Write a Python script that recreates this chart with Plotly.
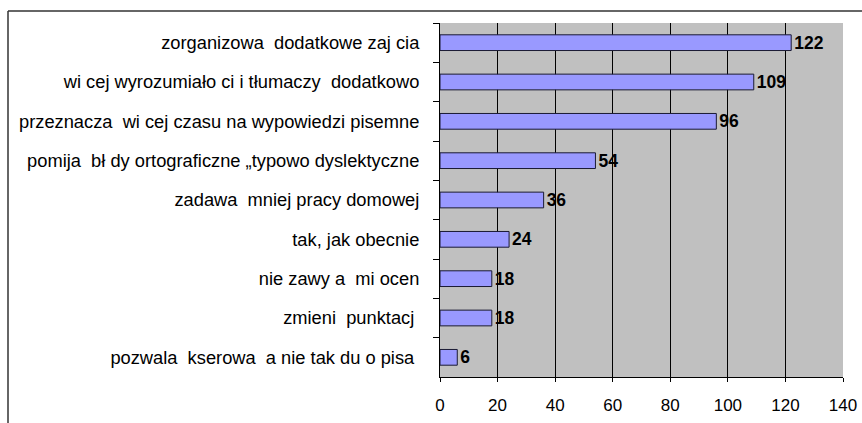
import plotly.graph_objects as go

categories = [
    "zorganizowa  dodatkowe zaj cia",
    "wi cej wyrozumiało ci i tłumaczy  dodatkowo",
    "przeznacza  wi cej czasu na wypowiedzi pisemne",
    "pomija  bł dy ortograficzne „typowo dyslektyczne",
    "zadawa  mniej pracy domowej",
    "tak, jak obecnie",
    "nie zawy a  mi ocen",
    "zmieni  punktacj ",
    "pozwala  kserowa  a nie tak du o pisa ",
]
values = [122, 109, 96, 54, 36, 24, 18, 18, 6]
x_ticks = [0, 20, 40, 60, 80, 100, 120, 140]

FONT = "Liberation Sans, Arial, sans-serif"

fig = go.Figure(
    go.Bar(
        y=categories,
        x=values,
        orientation="h",
        marker=dict(color="#9999ff", line=dict(color="#1a1a33", width=1)),
        text=[str(v) for v in values],
        textposition="outside",
        constraintext="none",
        textfont=dict(family=FONT, size=17.5, color="#000000", weight="bold"),
        cliponaxis=False,
    )
)

PW = 862 - 440 - 19
PH = 423 - 23 - 46

fig.update_layout(
    width=862,
    height=423,
    margin=dict(l=440, r=19, t=23, b=46, autoexpand=False),
    paper_bgcolor="white",
    plot_bgcolor="#c0c0c0",
    bargap=0.6,
    showlegend=False,
    font=dict(family=FONT, size=17, color="#000000"),
    xaxis=dict(
        range=[0, 140],
        tickvals=x_ticks,
        ticks="outside",
        ticklen=4,
        tickcolor="#000",
        showgrid=True,
        gridcolor="#000000",
        gridwidth=1,
        showline=True,
        linecolor="#000",
        linewidth=1,
        zeroline=False,
        automargin=False,
        ticklabelstandoff=9,
        tickfont=dict(size=17),
        fixedrange=True,
    ),
    yaxis=dict(
        categoryorder="array",
        categoryarray=categories,
        autorange="reversed",
        ticks="outside",
        tickson="boundaries",
        ticklen=6,
        tickcolor="#000",
        showline=True,
        linecolor="#000",
        linewidth=1,
        showgrid=False,
        automargin=False,
        ticklabelstandoff=16,
        tickfont=dict(size=18.3),
    ),
    shapes=[
        dict(type="line", xref="paper", yref="paper", x0=-432 / PW, x1=1.1, y0=1 + 12 / PH, y1=1 + 12 / PH,
             line=dict(color="#333", width=1.5)),
        dict(type="line", xref="paper", yref="paper", x0=-432 / PW, x1=-432 / PW, y0=1 + 12 / PH, y1=-0.2,
             line=dict(color="#333", width=1.5)),
    ],
)

fig.write_html("out.html")
